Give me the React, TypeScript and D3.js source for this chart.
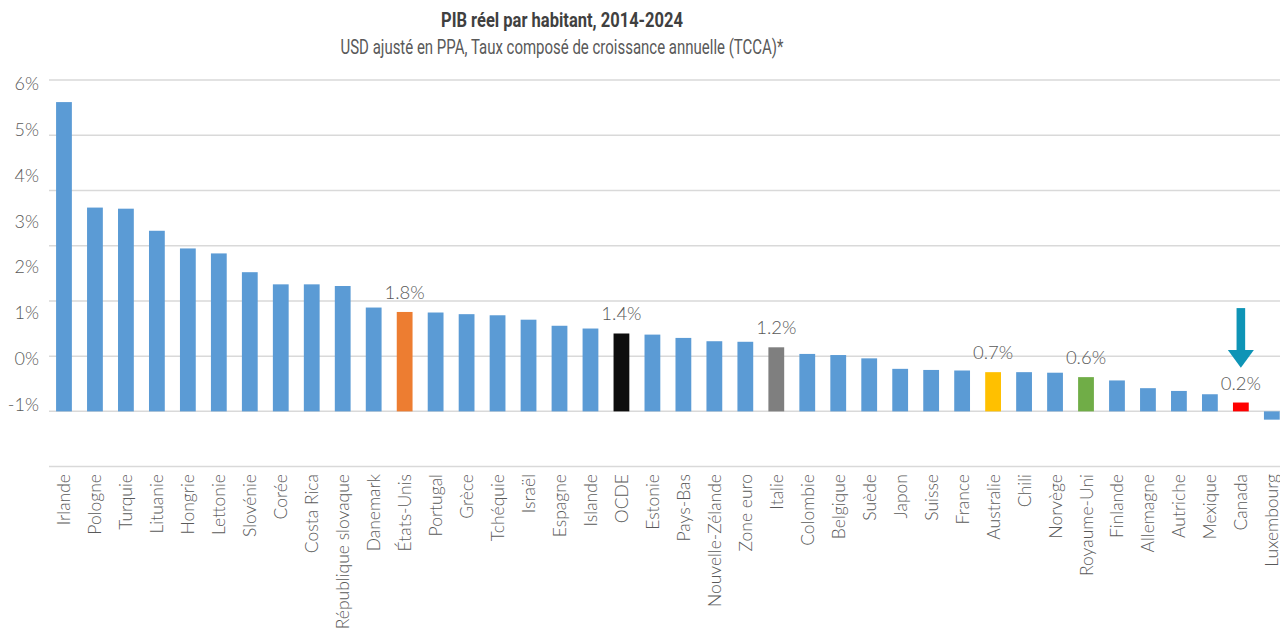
import React from "react";
import * as d3 from "d3";

const categories = [
  "Irlande", "Pologne", "Turquie", "Lituanie", "Hongrie", "Lettonie", "Slovénie", "Corée",
  "Costa Rica", "République slovaque", "Danemark", "États-Unis", "Portugal", "Grèce",
  "Tchéquie", "Israël", "Espagne", "Islande", "OCDE", "Estonie", "Pays-Bas",
  "Nouvelle-Zélande", "Zone euro", "Italie", "Colombie", "Belgique", "Suède", "Japon",
  "Suisse", "France", "Australie", "Chili", "Norvège", "Royaume-Uni", "Finlande",
  "Allemagne", "Autriche", "Mexique", "Canada", "Luxembourg",
];

const values = [
  5.6, 3.69, 3.67, 3.27, 2.95, 2.86, 2.52, 2.3, 2.3, 2.27, 1.88, 1.8, 1.79, 1.76, 1.74,
  1.66, 1.55, 1.5, 1.41, 1.39, 1.33, 1.27, 1.26, 1.16, 1.04, 1.02, 0.96, 0.77, 0.75,
  0.74, 0.71, 0.71, 0.7, 0.62, 0.56, 0.42, 0.37, 0.31, 0.16, -0.15,
];

const highlightColors: Record<string, string> = {
  "États-Unis": "#ED7D31",
  OCDE: "#0D0D0D",
  Italie: "#7F7F7F",
  Australie: "#FFC000",
  "Royaume-Uni": "#70AD47",
  Canada: "#FF0000",
};

const dataLabels: { name: string; text: string }[] = [
  { name: "États-Unis", text: "1.8%" },
  { name: "OCDE", text: "1.4%" },
  { name: "Italie", text: "1.2%" },
  { name: "Australie", text: "0.7%" },
  { name: "Royaume-Uni", text: "0.6%" },
  { name: "Canada", text: "0.2%" },
];

const gridValues = [-1, 0, 1, 2, 3, 4, 5, 6];
const tickLabels = ["-1%", "0%", "1%", "2%", "3%", "4%", "5%", "6%"];

const title = "PIB réel par habitant, 2014-2024";
const subtitle = "USD ajusté en PPA, Taux composé de croissance annuelle (TCCA)*";

const W = 1280;
const H = 630;
const BLUE = "#5B9BD5";
const TEXT = "#595959";
const FONT = "Lato, 'Open Sans', sans-serif";

export default function App() {
  const x = d3.scaleBand<string>().domain(categories).range([40.9, 1294.9]).padding(0.49);
  // bars & gridlines
  const y = d3.scaleLinear().domain([-1, 6]).range([466.6, 80]);
  // y tick labels (positioned independently, as in the source)
  const yLab = d3.scaleLinear().domain([-1, 6]).range([404, 83]);

  const canadaX = (x("Canada") ?? 0) + x.bandwidth() / 2;
  const arrowTop = y(1.87);
  const headTop = y(1.11);
  const tip = y(0.79);

  return (
    <svg width={W} height={H} style={{ position: "absolute", left: 0, top: 0, background: "#fff" }}>
      <text x={562} y={27} textAnchor="middle" fontFamily="Roboto, sans-serif" fontWeight={700}
        fontSize={21} fill="#404040" textLength={242} lengthAdjust="spacingAndGlyphs">{title}</text>
      <text x={562} y={54} textAnchor="middle" fontFamily="Roboto, sans-serif" fontWeight={400}
        fontSize={21} fill={TEXT} textLength={443} lengthAdjust="spacingAndGlyphs">{subtitle}</text>

      {gridValues.map((v) => (
        <line key={v} x1={49} x2={W} y1={y(v)} y2={y(v)} stroke="#D9D9D9" strokeWidth={1.5} />
      ))}
      {gridValues.map((v, i) => (
        <text key={"t" + v} x={39} y={yLab(v)} textAnchor="end" dominantBaseline="central"
          fontFamily={FONT} fontSize={18} fontWeight={300} fill={TEXT}>{tickLabels[i]}</text>
      ))}

      {categories.map((c, i) => {
        const v = values[i];
        const y0 = y(0);
        const y1 = y(v);
        return (
          <rect key={c} x={x(c)} width={x.bandwidth()} y={Math.min(y0, y1)}
            height={Math.abs(y1 - y0)} fill={highlightColors[c] ?? BLUE} />
        );
      })}

      {dataLabels.map((d) => {
        const i = categories.indexOf(d.name);
        const cx = (x(d.name) ?? 0) + x.bandwidth() / 2;
        return (
          <text key={d.name} x={cx} y={y(values[i]) - 20} textAnchor="middle" dominantBaseline="central"
            fontFamily={FONT} fontSize={18.5} fontWeight={300} fill={TEXT}>{d.text}</text>
        );
      })}

      {categories.map((c) => {
        const cx = (x(c) ?? 0) + x.bandwidth() / 2;
        return (
          <text key={"l" + c} transform={`translate(${cx},474) rotate(-90)`} textAnchor="end"
            dominantBaseline="central" fontFamily={FONT} fontSize={17.5} fontWeight={300} fill={TEXT}>{c}</text>
        );
      })}

      <rect x={canadaX - 4.3} y={arrowTop} width={8.6} height={headTop - arrowTop} fill="#0E94B6" />
      <path d={`M${canadaX - 13},${headTop} L${canadaX + 13},${headTop} L${canadaX},${tip} Z`} fill="#0E94B6" />
    </svg>
  );
}
